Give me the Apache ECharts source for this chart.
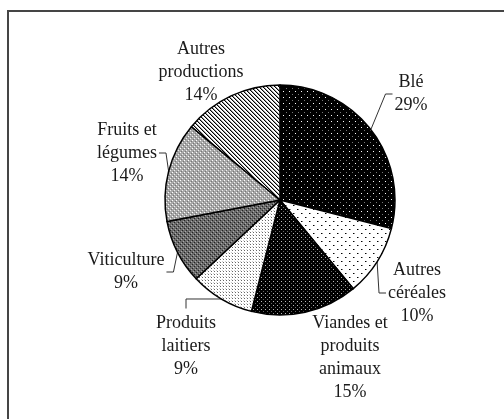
<!DOCTYPE html>
<html>
<head>
<meta charset="utf-8">
<script src="https://cdn.jsdelivr.net/npm/echarts@6/dist/echarts.min.js"></script>
<style>
  html, body { margin: 0; padding: 0; background: #fff; }
  #chart { width: 504px; height: 419px; }
</style>
</head>
<body>
<div id="chart"></div>
<script>
// Répartition de la production agricole (en %)
const categories = ['Blé', 'Autres\ncéréales', 'Viandes et\nproduits\nanimaux', 'Produits\nlaitiers', 'Viticulture', 'Fruits et\nlégumes', 'Autres\nproductions'];
const shares = [29, 10, 15, 9, 9, 14, 14];

// Pie geometry (px)
const CX = 280, CY = 200, R = 115;

// Label block centres, relative to the pie centre, and where each leader line attaches
const labelOffsets = [[131, -106], [137, 93], [70, 158], [-94, 146], [-154, 72], [-153, -47], [-79, -128]];
const guides = ['left', 'left', 'none', 'top', 'right', 'right', 'none'];

// Small bitmap tiles used as hatch fills
function tile(size, bg, dots) {
  const c = document.createElement('canvas');
  c.width = size; c.height = size;
  const g = c.getContext('2d');
  g.fillStyle = bg; g.fillRect(0, 0, size, size);
  dots.forEach(function (d) { g.fillStyle = d[2]; g.fillRect(d[0], d[1], 1, 1); });
  return { image: c, repeat: 'repeat' };
}
const fills = [
  tile(6, '#000', [[1, 1, '#fff'], [4, 4, '#777']]),
  tile(8, '#fff', [[1, 1, '#000'], [2, 1, '#888'], [5, 5, '#000'], [6, 5, '#888']]),
  tile(4, '#000', [[1, 1, '#bbb'], [3, 3, '#666']]),
  tile(3, '#fff', [[1, 1, '#666'], [0, 0, '#ccc']]),
  tile(4, '#6a6a6a', [[0, 0, '#222'], [2, 2, '#222'], [1, 3, '#aaa'], [3, 1, '#aaa']]),
  tile(4, '#a8a8a8', [[0, 0, '#fff'], [2, 2, '#eee'], [1, 3, '#777'], [3, 1, '#777']]),
  tile(4, '#fff', [[0, 0, '#000'], [1, 1, '#000'], [2, 2, '#000'], [3, 3, '#000'],
                   [1, 0, '#999'], [2, 1, '#999'], [3, 2, '#999'], [0, 3, '#999']])
];

// Point on the rim at the middle of slice i (clockwise from 12 o'clock)
const total = shares.reduce(function (a, b) { return a + b; }, 0);
function rimPoint(i) {
  let before = 0;
  for (let k = 0; k < i; k++) before += shares[k];
  const t = 2 * Math.PI * (before + shares[i] / 2) / total;
  return [CX + R * Math.sin(t), CY - R * Math.cos(t)];
}

const chart = echarts.init(document.getElementById('chart'), null, { renderer: 'canvas' });
chart.setOption({
  animation: false,
  backgroundColor: '#fff',
  graphic: [{
    type: 'rect',
    shape: { x: 8, y: 11, width: 600, height: 500 },
    style: { fill: 'none', stroke: '#454545', lineWidth: 2 },
    silent: true
  }],
  series: [{
    type: 'pie',
    center: [CX, CY],
    radius: R,
    startAngle: 90,
    clockwise: true,
    avoidLabelOverlap: false,
    silent: true,
    emphasis: { disabled: true },
    itemStyle: { borderColor: '#000', borderWidth: 1.5 },
    label: {
      show: true,
      position: 'outside',
      formatter: '{b}\n{c}%',
      fontFamily: 'Liberation Serif',
      fontSize: 18,
      lineHeight: 23,
      color: '#1a1a1a',
      align: 'center'
    },
    labelLine: { show: true, lineStyle: { color: '#333', width: 1 } },
    labelLayout: function (p) {
      const i = p.dataIndex;
      const w = p.labelRect.width, h = p.labelRect.height;
      const x = CX + labelOffsets[i][0], y = CY + labelOffsets[i][1];
      const out = { x: x, y: y, align: 'center', verticalAlign: 'middle' };
      const a = rimPoint(i);
      const g = guides[i];
      if (g === 'left') {
        const ex = x - w / 2 - 2;
        out.labelLinePoints = [a, [ex - 7, y], [ex, y]];
      } else if (g === 'right') {
        const ex = x + w / 2 + 2;
        out.labelLinePoints = [a, [ex + 7, y], [ex, y]];
      } else if (g === 'top') {
        const ey = y - h / 2 - 3;
        out.labelLinePoints = [a, [x, a[1]], [x, ey]];
      }
      return out;
    },
    data: categories.map(function (name, i) {
      return {
        name: name,
        value: shares[i],
        itemStyle: { color: fills[i] },
        labelLine: { show: guides[i] !== 'none' }
      };
    })
  }]
});
</script>
</body>
</html>
